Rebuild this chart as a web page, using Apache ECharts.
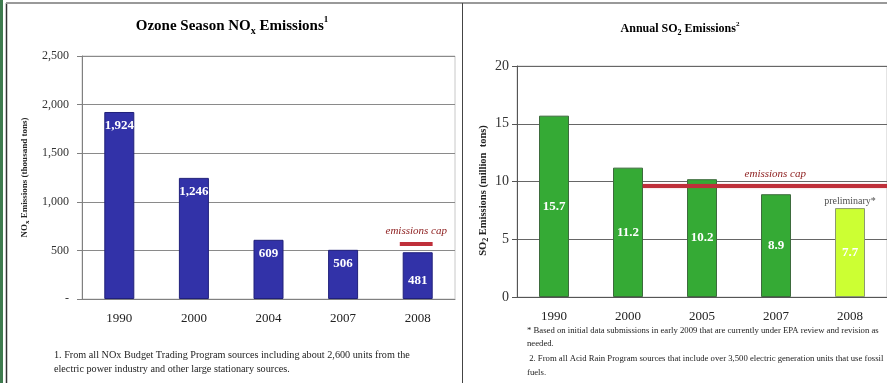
<!DOCTYPE html>
<html>
<head>
<meta charset="utf-8">
<script src="https://cdn.jsdelivr.net/npm/echarts@6/dist/echarts.min.js"></script>
<style>
html,body{margin:0;padding:0;background:#fff;}
#chart{width:887px;height:383px;}
</style>
</head>
<body>
<div id="chart"></div>
<script>
// ---- data ----
const noxYears = ['1990', '2000', '2004', '2007', '2008'];
const noxValues = [1924, 1246, 609, 506, 481];
const noxCap = 566;
const noxCapSpan = [4.26, 4.48, 4.70];   // category-unit span of the cap line (2008 only)
const noxAxisMax = 2500;
const noxAxisStep = 500;

const so2Years = ['1990', '2000', '2005', '2007', '2008'];
const so2Values = [15.7, 11.2, 10.2, 8.9, 7.7];
const so2Cap = 9.6;
const so2CapSpan = [1.7, 3.49, 5.0];     // category-unit span of the cap line
const so2AxisMax = 20;
const so2AxisStep = 5;

const noxFootnote = ['1. From all NOx Budget Trading Program sources including about 2,600 units from the',
                     'electric power industry and other large stationary sources.'];
const so2Footnote = ['* Based on initial data submissions in early 2009 that are currently under EPA review and revision as',
                     'needed.',
                     ' 2. From all Acid Rain Program sources that include over 3,500 electric generation units that use fossil',
                     'fuels.'];

// ---- styles ----
const SERIF = "'Liberation Serif','Times New Roman',serif";
const fmtComma = v => v === 0 ? '-' : String(v).replace(/\B(?=(\d{3})+(?!\d))/g, ',');

const chart = echarts.init(document.getElementById('chart'), null, {renderer: 'canvas'});

const capLineData = (span, val) => span.map((x, i) => i === 1
  ? {value: [x, val], label: {show: true}}
  : [x, val]);

const option = {
  animation: false,
  backgroundColor: '#fff',
  grid: [
    {left: 82, top: 56, width: 373, height: 243, show: true, borderColor: '#c8c8c8', borderWidth: 1},
    {left: 517, top: 66, width: 372, height: 231, show: true, borderColor: '#c8c8c8', borderWidth: 1}
  ],
  xAxis: [
    {type: 'category', gridIndex: 0, data: noxYears,
     axisLine: {lineStyle: {color: '#808080'}},
     axisTick: {length: 5, lineStyle: {color: '#808080'}},
     axisLabel: {color: '#222', fontFamily: SERIF, fontSize: 13, margin: 13}},
    {type: 'category', gridIndex: 1, data: so2Years,
     axisLine: {lineStyle: {color: '#555'}},
     axisTick: {length: 5, lineStyle: {color: '#555'}},
     axisLabel: {color: '#222', fontFamily: SERIF, fontSize: 13, margin: 13}},
    {type: 'value', gridIndex: 0, min: 0, max: 5, show: false},
    {type: 'value', gridIndex: 1, min: 0, max: 5, show: false}
  ],
  yAxis: [
    {type: 'value', gridIndex: 0, min: 0, max: noxAxisMax, interval: noxAxisStep,
     axisLine: {show: true, lineStyle: {color: '#808080'}},
     axisTick: {show: true, length: 5, lineStyle: {color: '#808080'}},
     splitLine: {lineStyle: {color: '#8a8a8a'}},
     axisLabel: {color: '#333', fontFamily: SERIF, fontSize: 12, margin: 13, formatter: fmtComma},
     name: '{b|NO}{s|x}{b| Emissions (thousand tons)}',
     nameLocation: 'middle', nameRotate: 90, nameGap: 51,
     nameTextStyle: {rich: {
       b: {fontFamily: SERIF, fontWeight: 'bold', fontSize: 9, color: '#222', lineHeight: 12},
       s: {fontFamily: SERIF, fontWeight: 'bold', fontSize: 7, color: '#222', lineHeight: 7, verticalAlign: 'bottom'}
     }}},
    {type: 'value', gridIndex: 1, min: 0, max: so2AxisMax, interval: so2AxisStep,
     axisLine: {show: true, lineStyle: {color: '#555'}},
     axisTick: {show: true, length: 5, lineStyle: {color: '#555'}},
     splitLine: {lineStyle: {color: '#666'}},
     axisLabel: {color: '#333', fontFamily: SERIF, fontSize: 14, margin: 8},
     name: '{b|SO}{s|2}{b| Emissions (million  tons)}',
     nameLocation: 'middle', nameRotate: 90, nameGap: 27,
     nameTextStyle: {padding: [0, 0, 0, -18], rich: {
       b: {fontFamily: SERIF, fontWeight: 'bold', fontSize: 10.5, color: '#222', lineHeight: 13},
       s: {fontFamily: SERIF, fontWeight: 'bold', fontSize: 8, color: '#222', lineHeight: 8, verticalAlign: 'bottom'}
     }}}
  ],
  series: [
    {type: 'bar', xAxisIndex: 0, yAxisIndex: 0, barWidth: 30,
     data: noxValues.map((v, i) => i === noxValues.length - 1 ? {value: v, label: {distance: 22}} : v),
     itemStyle: {color: '#3232A8', borderColor: '#20207a', borderWidth: 1},
     label: {show: true, position: 'insideTop', distance: 7, color: '#fff', fontWeight: 'bold',
             fontFamily: SERIF, fontSize: 13, formatter: p => fmtComma(p.value)}},
    {type: 'bar', xAxisIndex: 1, yAxisIndex: 1, barWidth: 30,
     data: so2Values.map((v, i) => i === so2Values.length - 1
       ? {value: v, itemStyle: {color: '#CCFF33', borderColor: '#8c9a70'}} : v),
     itemStyle: {color: '#35AA35', borderColor: '#3d6b3d', borderWidth: 1},
     label: {show: true, position: 'inside', color: '#fff', fontWeight: 'bold',
             fontFamily: SERIF, fontSize: 13, formatter: p => p.value.toFixed(1)}},
    {type: 'line', xAxisIndex: 2, yAxisIndex: 0, data: capLineData(noxCapSpan, noxCap),
     symbol: 'circle', symbolSize: 0, lineStyle: {color: '#BF2F3A', width: 4}, z: 5,
     label: {show: false, position: 'top', distance: 7, formatter: 'emissions cap', color: '#8B1A1A',
             fontStyle: 'italic', fontFamily: SERIF, fontSize: 11}},
    {type: 'line', xAxisIndex: 3, yAxisIndex: 1, data: capLineData(so2CapSpan, so2Cap),
     symbol: 'circle', symbolSize: 0, lineStyle: {color: '#BF2F3A', width: 4,
       shadowColor: 'rgba(191,47,58,0.35)', shadowBlur: 2}, z: 5,
     label: {show: false, position: 'top', distance: 7, formatter: 'emissions cap', color: '#8B1A1A',
             fontStyle: 'italic', fontFamily: SERIF, fontSize: 11}},
    {type: 'scatter', xAxisIndex: 1, yAxisIndex: 1, symbolSize: 0,
     data: [[so2Years[so2Years.length - 1], so2Values[so2Values.length - 1]]],
     label: {show: true, position: 'top', distance: 2, formatter: 'preliminary*', color: '#222',
             fontFamily: SERIF, fontSize: 10}}
  ],
  graphic: [
    {type: 'rect', shape: {x: 0, y: 0, width: 3, height: 383}, style: {fill: '#3E7B4E'}, silent: true},
    {type: 'line', shape: {x1: 6.5, y1: 3, x2: 6.5, y2: 383}, style: {stroke: '#333', lineWidth: 1.5}, silent: true},
    {type: 'line', shape: {x1: 6, y1: 3, x2: 887, y2: 3}, style: {stroke: '#999', lineWidth: 2}, silent: true},
    {type: 'line', shape: {x1: 462.5, y1: 3, x2: 462.5, y2: 383}, style: {stroke: '#444', lineWidth: 1}, silent: true},
    {type: 'text', x: 232, y: 26, style: {
      text: '{b|Ozone Season NO}{s|x}{b| Emissions}{p|1}', align: 'center', verticalAlign: 'middle',
      rich: {
        b: {fontFamily: SERIF, fontWeight: 'bold', fontSize: 15, color: '#222', lineHeight: 21},
        s: {fontFamily: SERIF, fontWeight: 'bold', fontSize: 10, color: '#222', lineHeight: 10, verticalAlign: 'bottom'},
        p: {fontFamily: SERIF, fontWeight: 'bold', fontSize: 9, color: '#222', lineHeight: 10, verticalAlign: 'top'}
      }}},
    {type: 'text', x: 680, y: 29, style: {
      text: '{b|Annual SO}{s|2}{b| Emissions}{p|2}', align: 'center', verticalAlign: 'middle',
      rich: {
        b: {fontFamily: SERIF, fontWeight: 'bold', fontSize: 12, color: '#222', lineHeight: 16},
        s: {fontFamily: SERIF, fontWeight: 'bold', fontSize: 8, color: '#222', lineHeight: 8, verticalAlign: 'bottom'},
        p: {fontFamily: SERIF, fontWeight: 'bold', fontSize: 7, color: '#222', lineHeight: 8, verticalAlign: 'top'}
      }}},
    ...noxFootnote.map((t, i) => ({type: 'text', x: 54, y: 355 + i * 14, style: {
      text: t, fontFamily: SERIF, fontSize: 10.2, fill: '#222', verticalAlign: 'middle'}})),
    ...so2Footnote.map((t, i) => ({type: 'text', x: 527, y: [331, 344, 359, 373][i], style: {
      text: t, fontFamily: SERIF, fontSize: 8.7, fill: '#222', verticalAlign: 'middle'}}))
  ]
};
chart.setOption(option);
</script>
</body>
</html>
